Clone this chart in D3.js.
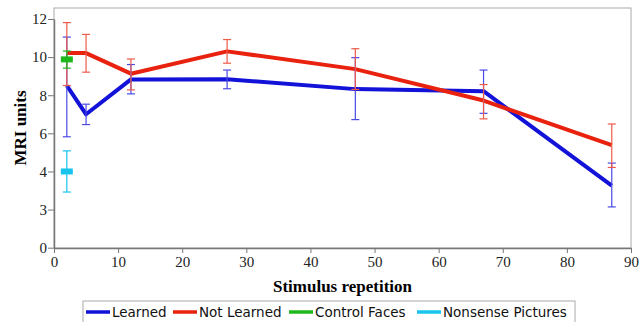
<!DOCTYPE html>
<html>
<head>
<meta charset="utf-8">
<script src="https://cdn.jsdelivr.net/npm/d3@7"></script>
<style>
  body { margin: 0; background: #fff; }
  svg { display: block; }
</style>
</head>
<body>
<div id="chart"></div>
<script>
// stimulus repetitions on the x axis
const reps = [2, 5, 12, 27, 47, 67, 87];

// Learned series: mean, upper and lower error
const learned = [8.5, 7.0, 8.83, 8.84, 8.32, 8.21, 3.63];
const learnedHi = [11.05, 7.53, 9.61, 9.32, 9.97, 9.32, 4.44];
const learnedLo = [5.82, 6.46, 8.07, 8.34, 6.72, 7.05, 3.07];

// Not Learned series
const notLearned = [10.21, 10.21, 9.13, 10.3, 9.37, 7.72, 5.38];
const notLearnedHi = [11.81, 11.19, 9.9, 10.92, 10.44, 8.56, 6.49];
const notLearnedLo = [8.51, 9.21, 8.28, 9.68, 8.3, 6.76, 4.21];

// single-point controls
const controlX = [2], control = [9.88], controlHi = [10.32], controlLo = [9.42];
const nonsenseX = [2], nonsense = [4.0], nonsenseHi = [5.08], nonsenseLo = [3.46];

const xTicks = [0, 10, 20, 30, 40, 50, 60, 70, 80, 90];
const yTicks = [0, 3, 4, 6, 8, 10, 12];

const legendNames = ["Learned", "Not Learned", "Control Faces", "Nonsense Pictures"];
const colors = ["#1212d8", "#e8220e", "#1cb81c", "#18c4ee"];
const barColors = ["#4a4ae6", "#ee5a4a", "#1cb81c", "#18c4ee"];

const W = 640, H = 322;
const m = { left: 54, right: 631, top: 8, bottom: 248 };
const serif = "'Liberation Serif', 'Times New Roman', serif";

const svg = d3.select("#chart").append("svg")
  .attr("width", W).attr("height", H);

const x = d3.scaleLinear().domain([0, 90]).range([m.left, m.right]);
// the axis in the figure spaces its labels evenly, so the scale is piecewise
const y = d3.scaleLinear()
  .domain(yTicks)
  .range(yTicks.map((d, i) => 247.7 - i * 38.12));

// frame
svg.append("rect")
  .attr("x", m.left).attr("y", m.top)
  .attr("width", m.right - m.left).attr("height", m.bottom - m.top)
  .attr("fill", "none").attr("stroke", "#aaa").attr("stroke-width", 1);

// axes
const xAxis = svg.append("g")
  .attr("transform", `translate(0,${m.bottom})`)
  .call(d3.axisBottom(x).tickValues(xTicks).tickSize(5).tickSizeOuter(0));
const yAxis = svg.append("g")
  .attr("transform", `translate(${m.left},0)`)
  .call(d3.axisLeft(y).tickValues(yTicks).tickSize(6).tickPadding(1).tickSizeOuter(0));

[xAxis, yAxis].forEach(g => {
  g.attr("font-family", serif).attr("font-size", 15);
  g.select(".domain").attr("stroke", "#777").attr("stroke-width", 1.5);
  g.selectAll(".tick line").attr("stroke", "#777");
  g.selectAll(".tick text")
    .attr("fill", "#222")
    .attr("font-family", serif)
    .attr("font-size", 15);
});
xAxis.selectAll(".tick text").attr("y", 19).attr("dy", 0);

// axis titles
svg.append("text")
  .attr("x", (m.left + m.right) / 2).attr("y", 292)
  .attr("text-anchor", "middle")
  .attr("font-family", serif)
  .attr("font-weight", "bold").attr("font-size", 17)
  .text("Stimulus repetition");

svg.append("text")
  .attr("transform", `translate(26,${(m.top + m.bottom) / 2}) rotate(-90)`)
  .attr("text-anchor", "middle")
  .attr("font-family", serif)
  .attr("font-weight", "bold").attr("font-size", 17)
  .text("MRI units");

const line = d3.line().x(d => x(d[0])).y(d => y(d[1]));

function series(xs, mean, hi, lo, i) {
  return xs.map((v, k) => ({ x: v, m: mean[k], hi: hi[k], lo: lo[k], c: i }));
}

const sLearned = series(reps, learned, learnedHi, learnedLo, 0);
const sNot = series(reps, notLearned, notLearnedHi, notLearnedLo, 1);
const sControl = series(controlX, control, controlHi, controlLo, 2);
const sNonsense = series(nonsenseX, nonsense, nonsenseHi, nonsenseLo, 3);

// lines
[sLearned, sNot].forEach(s => {
  svg.append("path")
    .datum(s.map(d => [d.x, d.m]))
    .attr("d", line)
    .attr("fill", "none")
    .attr("stroke", colors[s[0].c])
    .attr("stroke-width", 4)
    .attr("stroke-linejoin", "round");
});

// error bars
function errorBars(s) {
  const g = svg.append("g")
    .attr("stroke", barColors[s[0].c]).attr("stroke-width", 1.2);
  s.forEach(d => {
    const cx = x(d.x);
    g.append("line").attr("x1", cx).attr("x2", cx)
      .attr("y1", y(d.hi)).attr("y2", y(d.lo));
    [d.hi, d.lo].forEach(v => {
      g.append("line").attr("x1", cx - 4).attr("x2", cx + 4)
        .attr("y1", y(v)).attr("y2", y(v));
    });
  });
}
[sLearned, sNot, sControl, sNonsense].forEach(errorBars);

// single point markers drawn as short thick dashes
[sControl, sNonsense].forEach(s => {
  svg.selectAll(null).data(s).join("rect")
    .attr("x", d => x(d.x) - 6).attr("y", d => y(d.m) - 3)
    .attr("width", 12).attr("height", 6)
    .attr("fill", d => colors[d.c]);
});

// legend
const lg = svg.append("g");
lg.append("rect")
  .attr("x", 83).attr("y", 301).attr("width", 492).attr("height", 30)
  .attr("fill", "#fff").attr("stroke", "#aaa");
const legendX = [86, 173, 289, 417];
legendNames.forEach((name, i) => {
  lg.append("line")
    .attr("x1", legendX[i]).attr("x2", legendX[i] + 24)
    .attr("y1", 312).attr("y2", 312)
    .attr("stroke", colors[i]).attr("stroke-width", 3.5);
  lg.append("text")
    .attr("x", legendX[i] + 26).attr("y", 316.5)
    .attr("font-family", "'DejaVu Sans', sans-serif")
    .attr("font-size", 13.5).attr("fill", "#111")
    .text(name);
});
</script>
</body>
</html>
